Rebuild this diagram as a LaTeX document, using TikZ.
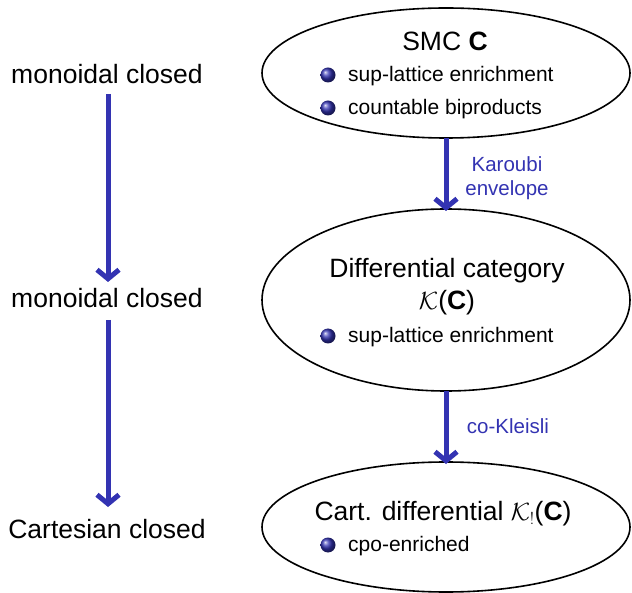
\documentclass[tikz,border=0pt]{standalone}
\usepackage{fontspec}
\setmainfont{Liberation Sans}
\setsansfont{Liberation Sans}
\usetikzlibrary{shapes.geometric,arrows.meta,shadings}
\definecolor{bblue}{rgb}{0.2,0.2,0.7}
\begin{document}
\begin{tikzpicture}[x=1pt,y=-1pt,
  stage/.style={ellipse,draw=black,line width=1.6pt,inner sep=0pt,outer sep=0pt,
    minimum width=368pt},
  big/.style={font=\fontsize{26.5}{30}\selectfont,inner sep=0pt,anchor=mid},
  item/.style={font=\fontsize{21}{24}\selectfont,inner sep=0pt,anchor=mid west},
  ball/.style={circle,inner sep=0pt,minimum size=15pt,shading=ball,ball color=bblue},
  flow/.style={draw=bblue,line width=5pt,-{Straight Barb[length=9pt,width=22pt]}},
  lbl/.style={font=\fontsize{20.5}{24}\selectfont,text=bblue,inner sep=0pt,align=center}]
\useasboundingbox (0,0) rectangle (632,593);

% the three categories
\node[stage,minimum height=130pt] (e1) at (446,73) {};
\node[stage,minimum height=182pt] (e2) at (446,300) {};
\node[stage,minimum height=130pt] (e3) at (446,527) {};

% contents of the first ellipse
\node[big] (t1) at (445,48) {SMC \textbf{C}};
\node[ball] (b11) at (328,75) {};
\node[item] (i11) at (348,79) {sup-lattice enrichment};
\node[ball] (b12) at (328,108) {};
\node[item] (i12) at (348,112) {countable biproducts};

% contents of the second ellipse
\node[big] (t2) at (447,275) {Differential category};
\node[big] (t2b) at (447,307) {$\mathcal{K}$(\textbf{C})};
\node[ball] (b21) at (328,336) {};
\node[item] (i21) at (348,340) {sup-lattice enrichment};

% contents of the third ellipse
\node[big] (t3) at (443,518) {Cart. differential $\mathcal{K}_!$(\textbf{C})};
\node[ball] (b31) at (328,545) {};
\node[item] (i31) at (348,549) {cpo-enriched};

% closedness on the left
\node[big] (m1) at (107,81) {monoidal closed};
\node[big] (m2) at (107,305) {monoidal closed};
\node[big] (m3) at (107,536) {Cartesian closed};

% constructions between the categories
\draw[flow] (e1.south) -- ([yshift=-2pt]e2.north);
\draw[flow] (e2.south) -- ([yshift=-2pt]e3.north);
\node[lbl] (k1) at (507,178) {Karoubi\\envelope};
\node[lbl] (k2) at (508,426) {co-Kleisli};

\draw[flow,shorten <=18pt,shorten >=18pt] (108,76) coordinate (c1) -- (108,300) coordinate (c2);
\draw[flow,shorten <=20pt,shorten >=24pt] (108,300) coordinate (c3) -- (108,531) coordinate (c4);
\end{tikzpicture}
\end{document}
